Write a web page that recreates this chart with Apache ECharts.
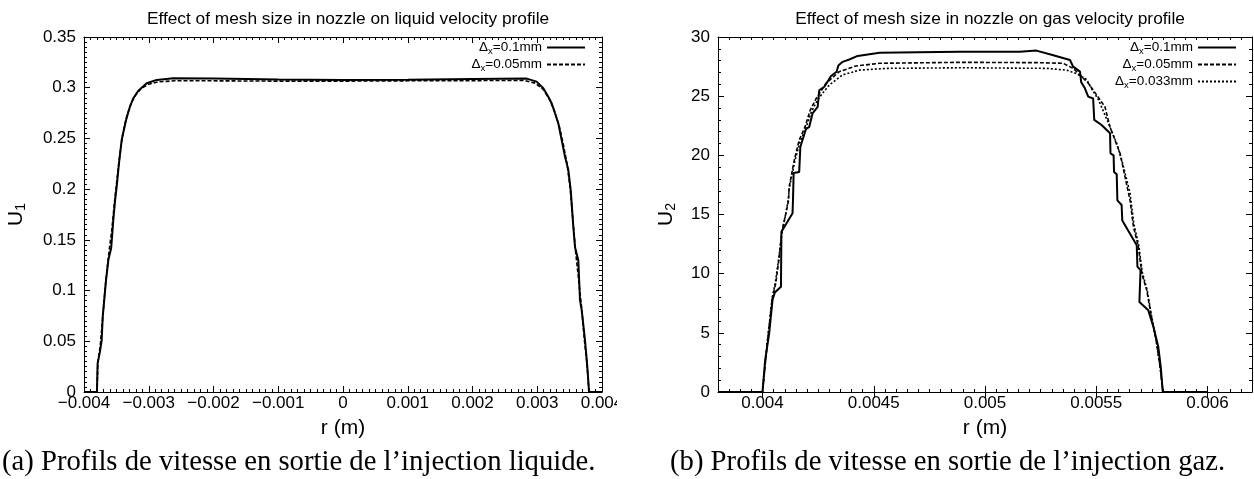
<!DOCTYPE html>
<html>
<head>
<meta charset="utf-8">
<script src="https://cdn.jsdelivr.net/npm/echarts@6/dist/echarts.min.js"></script>
<style>
html,body{margin:0;padding:0;background:#fff;}
#c{width:1254px;height:479px;}
</style>
</head>
<body>
<div id="c"></div>
<script>
// ---------- Data ----------
const liqTitle = 'Effect of mesh size in nozzle on liquid velocity profile';
const gasTitle = 'Effect of mesh size in nozzle on gas velocity profile';
const captionA = '(a) Profils de vitesse en sortie de l\u2019injection liquide.';
const captionB = '(b) Profils de vitesse en sortie de l\u2019injection gaz.';

const liqXTicks = [-0.004, -0.003, -0.002, -0.001, 0, 0.001, 0.002, 0.003, 0.004];
const gasXTicks = [0.004, 0.0045, 0.005, 0.0055, 0.006];

// Liquid, dx = 0.1 mm
const liqR_01 = [-0.0040,-0.0038,-0.00379,-0.003753,-0.003727,-0.003711,-0.00366,-0.003624,-0.00358,-0.003547,-0.00352,-0.003495,-0.00346,-0.003418,-0.003351,-0.00329,-0.003239,-0.003161,-0.003032,-0.002877,-0.00262,-0.002,-0.001,0,0.001,0.002,0.002837,0.00299,0.003094,0.00317,0.003223,0.003274,0.003325,0.003377,0.003429,0.00348,0.003517,0.003557,0.003583,0.003634,0.00366,0.003686,0.003737,0.003773,0.0038,0.004];
const liqU_01 = [0,0,0.028,0.040,0.051,0.074,0.110,0.130,0.142,0.170,0.189,0.2025,0.2255,0.2485,0.268,0.2814,0.2896,0.297,0.3044,0.3077,0.3093,0.3090,0.3080,0.3075,0.3078,0.3085,0.3090,0.306,0.2995,0.2912,0.2847,0.2748,0.265,0.2485,0.232,0.219,0.199,0.163,0.143,0.130,0.0907,0.081,0.0513,0.025,0,0];
// Liquid, dx = 0.05 mm
const liqR_005 = [-0.0040,-0.0038,-0.003785,-0.00375,-0.003715,-0.00367,-0.00362,-0.00357,-0.003525,-0.00349,-0.00345,-0.0034,-0.00334,-0.00327,-0.0032,-0.00312,-0.003,-0.00285,-0.0026,-0.002,-0.001,0,0.001,0.002,0.0028,0.00297,0.00309,0.00318,0.00326,0.00334,0.0034,0.00346,0.00351,0.00355,0.00359,0.00364,0.00369,0.00373,0.003765,0.0038,0.004];
const liqU_005 = [0,0,0.03,0.045,0.07,0.105,0.135,0.160,0.19,0.21,0.232,0.255,0.272,0.285,0.293,0.299,0.3035,0.3058,0.3068,0.3068,0.3065,0.3065,0.3068,0.307,0.3072,0.3045,0.2985,0.2895,0.278,0.262,0.245,0.225,0.2,0.17,0.14,0.11,0.08,0.05,0.03,0,0];

// Gas, dx = 0.1 mm
const gasR_01 = [0.0038,0.004,0.004012,0.00403,0.004045,0.004055,0.004083,0.004085,0.004135,0.004137,0.00414,0.004165,0.00417,0.004195,0.00421,0.004225,0.004248,0.004255,0.004278,0.004308,0.004333,0.004341,0.00436,0.00439,0.004428,0.004526,0.0047,0.004886,0.005156,0.005231,0.005299,0.005382,0.005396,0.005427,0.005432,0.005449,0.005464,0.005486,0.005491,0.005524,0.005562,0.005564,0.005578,0.00558,0.005592,0.005595,0.005614,0.005617,0.005682,0.005685,0.005699,0.005694,0.005734,0.005757,0.005779,0.00579,0.005799,0.006];
const gasU_01 = [0,0,2.7,4.96,7.77,8.4,8.9,13.55,15.1,16.2,18.5,18.6,20.7,22.2,22.4,23.55,24.1,25.5,25.8,26.7,27.07,27.6,27.9,28.1,28.4,28.67,28.72,28.76,28.76,28.85,28.5,28.06,27.5,27.07,26.2,25.66,24.96,24.8,23.0,22.56,21.86,20.17,20.0,18.6,18.4,16.2,15.8,14.5,12.4,10.6,10.3,7.6,6.9,5.5,3.8,2.1,0,0];
// Gas, dx = 0.05 mm
const gasR_005 = [0.0038,0.004,0.004023,0.004045,0.00406,0.004075,0.004087,0.004105,0.004117,0.00412,0.004143,0.004165,0.004191,0.004214,0.004241,0.004286,0.004345,0.00442,0.004526,0.0049,0.005246,0.005351,0.005396,0.005427,0.005464,0.005502,0.005539,0.005562,0.005584,0.005607,0.005629,0.005652,0.005667,0.005689,0.005705,0.005727,0.005745,0.005769,0.005787,0.0058,0.006];
const gasU_005 = [0,0,4.4,8.05,9.2,11.4,13.55,15.1,16.2,17.35,19.6,21.3,22.4,23.8,24.8,26.1,27.07,27.55,27.78,27.86,27.83,27.78,27.35,26.8,26.1,25.1,24.1,22.4,21.3,20.17,18.2,16.2,14.0,12.3,10.0,8.6,6.65,4.4,2.1,0,0];
// Gas, dx = 0.033 mm
const gasR_0033 = [0.0038,0.004,0.004022,0.004043,0.004058,0.004073,0.004087,0.004104,0.004116,0.00412,0.004145,0.004168,0.004195,0.004218,0.004245,0.004268,0.0043,0.00436,0.004436,0.004556,0.0049,0.005277,0.005367,0.005412,0.005457,0.00548,0.00551,0.005555,0.005592,0.005619,0.005652,0.005669,0.005691,0.005707,0.005729,0.005747,0.00577,0.005788,0.0058,0.006];
const gasU_0033 = [0,0,4.3,7.9,9.3,11.3,13.4,15.0,16.3,17.2,19.5,21.1,22.3,23.6,24.6,25.2,25.94,26.8,27.2,27.35,27.4,27.35,27.2,26.9,26.4,25.6,24.7,22.7,21.0,19.3,16.8,14.2,12.4,10.1,8.6,6.6,4.3,2.0,0,0];

const legendLabels = {
  'liq01': '\u0394{s|x}=0.1mm',
  'liq005': '\u0394{s|x}=0.05mm',
  'gas01': '\u0394{s|x}=0.1mm',
  'gas005': '\u0394{s|x}=0.05mm',
  'gas0033': '\u0394{s|x}=0.033mm'
};

// ---------- Helpers ----------
const zip = (xs, ys) => xs.map((x, i) => [x, ys[i]]);
const FONT = 'Liberation Sans';
const black = '#000';

const liqXFmt = v => {
  const r = Math.round(v * 1e6) / 1e6;
  if (r === 0) return '0';
  return (r < 0 ? '\u2212' : '') + String(Math.abs(r));
};
const gasXFmt = v => {
  const k = v * 2000;
  if (Math.abs(k - Math.round(k)) > 1e-4) return '';
  return String(parseFloat(v.toFixed(4)));
};

function baseAxis(extra) {
  return Object.assign({
    type: 'value',
    axisLine: { show: true, onZero: false, lineStyle: { color: black, width: 1 } },
    axisTick: { show: true, inside: true, length: 6, lineStyle: { color: black, width: 1 } },
    minorTick: { show: false },
    splitLine: { show: false },
    axisLabel: { show: false, color: black, fontFamily: FONT, fontSize: 17 }
  }, extra);
}

const nameStyle = { color: black, fontFamily: FONT, fontSize: 21 };
const yNameStyle = { color: black, fontFamily: FONT, fontSize: 21, lineHeight: 24,
  rich: { s: { fontSize: 14, fontFamily: FONT, color: black, lineHeight: 6, verticalAlign: 'bottom' } } };
const legendText = lh => ({ fontFamily: FONT, fontSize: 13.5, color: black, lineHeight: lh,
  rich: { s: { fontSize: 9.5, fontFamily: FONT, color: black, lineHeight: lh - 7, padding: [7, 0, 0, 0] } } });

const option = {
  animation: false,
  backgroundColor: '#fff',
  textStyle: { fontFamily: FONT },
  title: [
    { text: liqTitle, left: 343, top: 6, textAlign: 'center',
      textStyle: { fontFamily: FONT, fontSize: 17.3, fontWeight: 'normal', color: black } },
    { text: gasTitle, left: 985, top: 6, textAlign: 'center',
      textStyle: { fontFamily: FONT, fontSize: 17.3, fontWeight: 'normal', color: black } }
  ],
  grid: [
    { left: 84, top: 37, width: 518, height: 355 },
    { left: 718, top: 37, width: 534, height: 355 }
  ],
  xAxis: [
    baseAxis({ gridIndex: 0, position: 'bottom', min: -0.004, max: 0.004, interval: 0.001,
      minorTick: { show: true, splitNumber: 10, length: 3, lineStyle: { color: black } },
      axisLabel: { show: true, color: black, fontFamily: FONT, fontSize: 17, margin: 3, formatter: liqXFmt, showMaxLabel: true, showMinLabel: true },
      name: 'r (m)', nameLocation: 'middle', nameGap: 26, nameTextStyle: nameStyle }),
    baseAxis({ gridIndex: 0, position: 'top', min: -0.004, max: 0.004, interval: 0.001,
      minorTick: { show: true, splitNumber: 10, length: 3, lineStyle: { color: black } } }),
    baseAxis({ gridIndex: 1, position: 'bottom', min: 0.0038, max: 0.0062, interval: 0.00005,
      axisTick: { show: true, inside: true, length: 3, lineStyle: { color: black } },
      axisLabel: { show: true, color: black, fontFamily: FONT, fontSize: 17, margin: 3, formatter: gasXFmt, showMaxLabel: false, showMinLabel: false },
      name: 'r (m)', nameLocation: 'middle', nameGap: 26, nameTextStyle: nameStyle }),
    baseAxis({ gridIndex: 1, position: 'top', min: 0.0038, max: 0.0062, interval: 0.00005,
      axisTick: { show: true, inside: true, length: 3, lineStyle: { color: black } } }),
    baseAxis({ gridIndex: 1, position: 'bottom', min: 0.0038, max: 0.0062,
      axisLine: { show: false },
      axisTick: { show: true, inside: true, length: 6, customValues: gasXTicks, lineStyle: { color: black } } }),
    baseAxis({ gridIndex: 1, position: 'top', min: 0.0038, max: 0.0062,
      axisLine: { show: false },
      axisTick: { show: true, inside: true, length: 6, customValues: gasXTicks, lineStyle: { color: black } } })
  ],
  yAxis: [
    baseAxis({ gridIndex: 0, position: 'left', min: 0, max: 0.35, interval: 0.05,
      minorTick: { show: true, splitNumber: 10, length: 3, lineStyle: { color: black } },
      axisLabel: { show: true, color: black, fontFamily: FONT, fontSize: 17, margin: 8 },
      name: 'U{s|1}', nameLocation: 'middle', nameGap: 56, nameRotate: 90, nameTextStyle: yNameStyle }),
    baseAxis({ gridIndex: 0, position: 'right', min: 0, max: 0.35, interval: 0.05,
      minorTick: { show: true, splitNumber: 10, length: 3, lineStyle: { color: black } } }),
    baseAxis({ gridIndex: 1, position: 'left', min: 0, max: 30, interval: 5,
      minorTick: { show: true, splitNumber: 5, length: 3, lineStyle: { color: black } },
      axisLabel: { show: true, color: black, fontFamily: FONT, fontSize: 17, margin: 8 },
      name: 'U{s|2}', nameLocation: 'middle', nameGap: 40, nameRotate: 90, nameTextStyle: yNameStyle }),
    baseAxis({ gridIndex: 1, position: 'right', min: 0, max: 30, interval: 5,
      minorTick: { show: true, splitNumber: 5, length: 3, lineStyle: { color: black } } })
  ],
  legend: [
    { data: ['liq01', 'liq005'], orient: 'vertical', right: 663, top: 34, align: 'right',
      itemWidth: 38, itemHeight: 8, itemGap: 0, selectedMode: false,
      itemStyle: { opacity: 0 },
      formatter: n => legendLabels[n], textStyle: legendText(14) },
    { data: ['gas01', 'gas005', 'gas0033'], orient: 'vertical', right: 12, top: 34, align: 'right',
      itemWidth: 38, itemHeight: 8, itemGap: 0, selectedMode: false,
      itemStyle: { opacity: 0 },
      formatter: n => legendLabels[n], textStyle: legendText(13) }
  ],
  series: [
    { name: 'liq01', type: 'line', xAxisIndex: 0, yAxisIndex: 0, symbol: 'none', data: zip(liqR_01, liqU_01),
      lineStyle: { color: black, width: 2, type: 'solid' }, itemStyle: { color: black } },
    { name: 'liq005', type: 'line', xAxisIndex: 0, yAxisIndex: 0, symbol: 'none', data: zip(liqR_005, liqU_005),
      lineStyle: { color: black, width: 1.6, type: [4, 2] }, itemStyle: { color: black } },
    { name: 'gas01', type: 'line', xAxisIndex: 2, yAxisIndex: 2, symbol: 'none', data: zip(gasR_01, gasU_01),
      lineStyle: { color: black, width: 2, type: 'solid' }, itemStyle: { color: black } },
    { name: 'gas005', type: 'line', xAxisIndex: 2, yAxisIndex: 2, symbol: 'none', data: zip(gasR_005, gasU_005),
      lineStyle: { color: black, width: 1.6, type: [4, 2] }, itemStyle: { color: black } },
    { name: 'gas0033', type: 'line', xAxisIndex: 2, yAxisIndex: 2, symbol: 'none', data: zip(gasR_0033, gasU_0033),
      lineStyle: { color: black, width: 1.6, type: [2, 2] }, itemStyle: { color: black } }
  ],
  graphic: [
    { type: 'rect', left: 617, top: 394, shape: { width: 40, height: 20 }, style: { fill: '#fff' }, z: 100 },
    { type: 'text', x: 2, y: 462, style: { text: captionA, fill: black, font: '28.7px "Liberation Serif"', verticalAlign: 'middle', align: 'left' } },
    { type: 'text', x: 670, y: 462, style: { text: captionB, fill: black, font: '28.7px "Liberation Serif"', verticalAlign: 'middle', align: 'left' } }
  ]
};

const chart = echarts.init(document.getElementById('c'), null, { renderer: 'canvas' });
chart.setOption(option);
</script>
</body>
</html>
